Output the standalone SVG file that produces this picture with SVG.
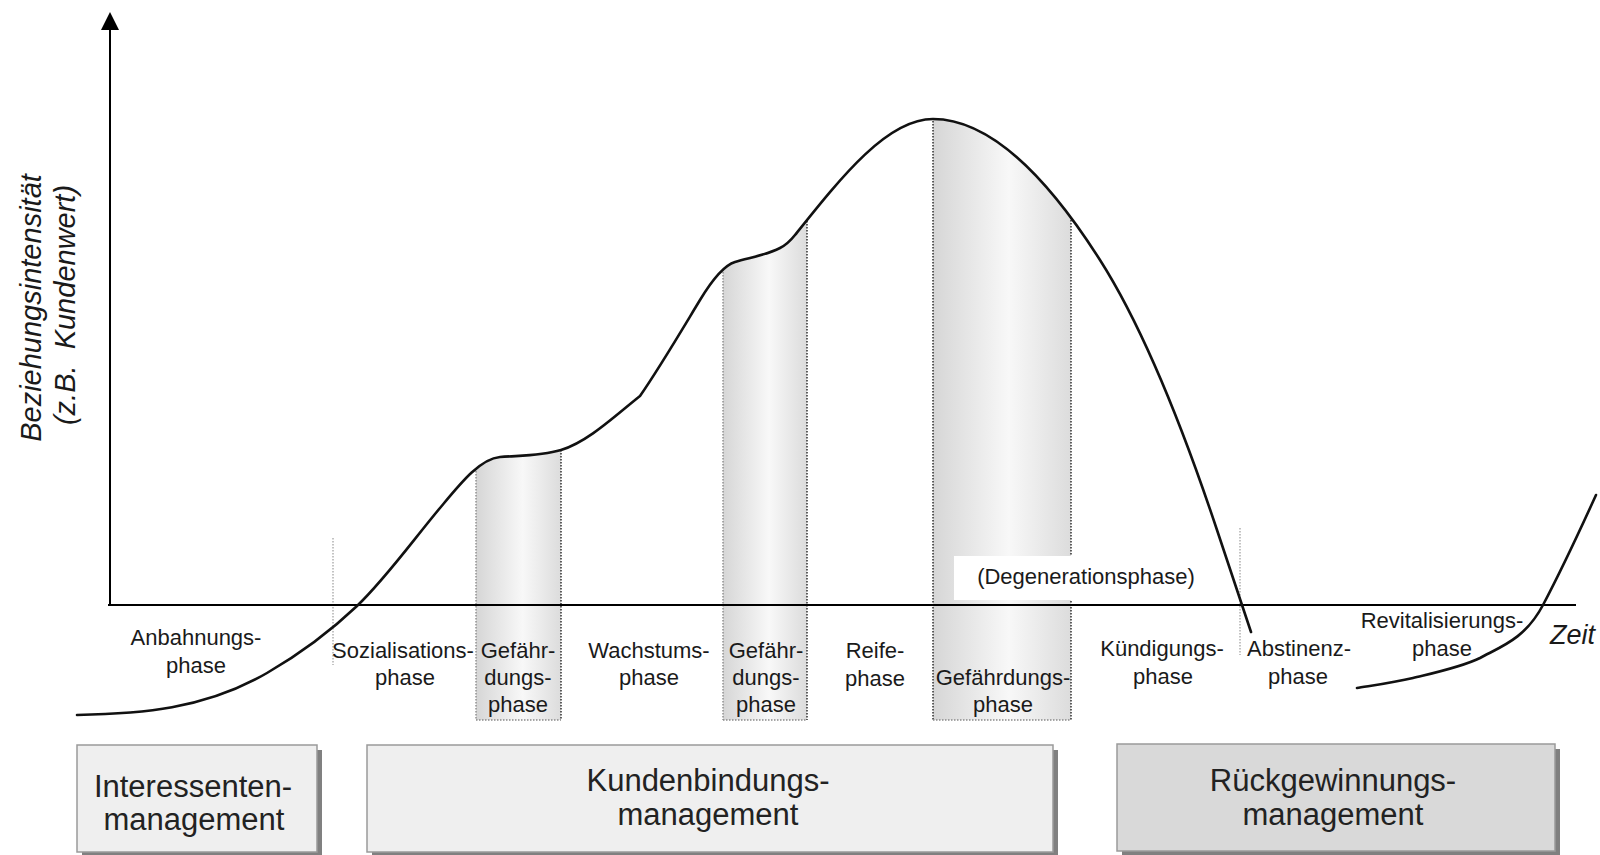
<svg xmlns="http://www.w3.org/2000/svg" width="1600" height="855" viewBox="0 0 1600 855">
<style>
.lbl{font-family:"Liberation Sans",Arial,sans-serif;font-size:22px;fill:#1a1a1a;text-anchor:middle}
.ital{font-family:"Liberation Sans",Arial,sans-serif;font-style:italic;fill:#1a1a1a}
.boxt{font-family:"Liberation Sans",Arial,sans-serif;font-size:31px;fill:#222;text-anchor:middle}
.ax{stroke:#000;stroke-width:2;fill:none}
.curve{fill:none;stroke:#111;stroke-width:2.6;stroke-linejoin:round;stroke-linecap:round}
.col{fill:url(#colgrad)}
.dotL{stroke:#8a8a8a;stroke-width:1.4;stroke-dasharray:1.5 1.5;fill:none}
.dotR{stroke:#222;stroke-width:1.4;stroke-dasharray:1.5 1.5;fill:none}
.sep{stroke:#aaa;stroke-width:1.4;stroke-dasharray:1.5 1.5;fill:none}
.shadow{fill:#808080}
.box{stroke:#9a9a9a;stroke-width:1.5}
</style>
<defs>
<linearGradient id="colgrad" x1="0" y1="0" x2="1" y2="0">
<stop offset="0" stop-color="#d6d6d6"/>
<stop offset="0.55" stop-color="#f8f8f8"/>
<stop offset="1" stop-color="#dcdcdc"/>
</linearGradient>
<clipPath id="under">
<path d="M77 715 C140.3 713.7 203.7 709.7 267 673 C297 655.6 327 634.5 357 606 C384.7 579.7 412.3 541.2 440 508 C460 484 480 458.6 500 457 C520.3 455.4 540.7 456.1 561 450 C587.3 442.1 613.7 417 640 396 C660 367 680 333 700 300 C711.7 280.7 723.3 265.5 735 262 C750 257.5 765 255.5 780 248 C785 245.5 790 241.3 795 235 C841 177.5 887 119 933 119 C988.7 119 1044.3 172.6 1100 260 C1139 321.2 1178 413 1217 530 L1251 632 L1260 860 L60 860 Z"/>
</clipPath>
</defs>
<rect width="1600" height="855" fill="#fff"/>

<g id="columns" clip-path="url(#under)">
<g id="col1">
<rect class="col" x="476" y="420" width="85" height="300"/>
<line class="dotL" x1="476" y1="420" x2="476" y2="720"/>
<line class="dotR" x1="561" y1="420" x2="561" y2="720"/>
<line class="dotL" x1="476" y1="720" x2="561" y2="720"/>
</g>
<g id="col2">
<rect class="col" x="723" y="200" width="84" height="520"/>
<line class="dotL" x1="723" y1="200" x2="723" y2="720"/>
<line class="dotR" x1="807" y1="200" x2="807" y2="720"/>
<line class="dotL" x1="723" y1="720" x2="807" y2="720"/>
</g>
<g id="col3">
<rect class="col" x="933" y="100" width="138" height="620"/>
<line class="dotR" x1="933" y1="100" x2="933" y2="720"/>
<line class="dotR" x1="1071" y1="100" x2="1071" y2="720"/>
<line class="dotL" x1="933" y1="720" x2="1071" y2="720"/>
</g>
</g>

<g id="degeneration">
<rect x="954" y="556" width="250" height="44" fill="#fff"/>
<text class="lbl" x="1086" y="584">(Degenerationsphase)</text>
</g>

<g id="separators">
<line class="sep" x1="333" y1="538" x2="333" y2="665"/>
<line class="sep" x1="1240" y1="528" x2="1240" y2="655"/>
</g>

<g id="connectors">
<line class="ax" x1="110" y1="605" x2="110" y2="28"/>
<polygon points="110,12 101,30 119,30" fill="#000"/>
<line class="ax" x1="108" y1="605" x2="1576" y2="605"/>
<path class="curve" d="M77 715 C140.3 713.7 203.7 709.7 267 673 C297 655.6 327 634.5 357 606 C384.7 579.7 412.3 541.2 440 508 C460 484 480 458.6 500 457 C520.3 455.4 540.7 456.1 561 450 C587.3 442.1 613.7 417 640 396 C660 367 680 333 700 300 C711.7 280.7 723.3 265.5 735 262 C750 257.5 765 255.5 780 248 C785 245.5 790 241.3 795 235 C841 177.5 887 119 933 119 C988.7 119 1044.3 172.6 1100 260 C1139 321.2 1178 413 1217 530 L1251 632"/>
<path class="curve" d="M1357 688 C1366.3 686.3 1392.5 683 1413 678 C1433.5 673 1461 667.3 1480 658 C1501 646.5 1525 639 1543 605 C1560.7 571.4 1578.3 534 1596 495"/>
</g>

<g id="axis-labels">
<text class="ital" font-size="29" text-anchor="middle" transform="translate(41,308) rotate(-90)">Beziehungsintensität</text>
<text class="ital" font-size="29" text-anchor="middle" xml:space="preserve" transform="translate(75,305) rotate(-90)">(z.B.  Kundenwert)</text>
<text class="ital" font-size="27" x="1550" y="644">Zeit</text>
</g>

<g id="phase-anbahnung"><text class="lbl" x="196" y="645">Anbahnungs-</text><text class="lbl" x="196" y="673">phase</text></g>
<g id="phase-sozialisation"><text class="lbl" x="403" y="658">Sozialisations-</text><text class="lbl" x="405" y="685">phase</text></g>
<g id="phase-gefaehrdung1"><text class="lbl" x="518" y="658">Gefähr-</text><text class="lbl" x="518" y="685">dungs-</text><text class="lbl" x="518" y="712">phase</text></g>
<g id="phase-wachstum"><text class="lbl" x="649" y="658">Wachstums-</text><text class="lbl" x="649" y="685">phase</text></g>
<g id="phase-gefaehrdung2"><text class="lbl" x="766" y="658">Gefähr-</text><text class="lbl" x="766" y="685">dungs-</text><text class="lbl" x="766" y="712">phase</text></g>
<g id="phase-reife"><text class="lbl" x="875" y="658">Reife-</text><text class="lbl" x="875" y="686">phase</text></g>
<g id="phase-gefaehrdung3"><text class="lbl" x="1003" y="685">Gefährdungs-</text><text class="lbl" x="1003" y="712">phase</text></g>
<g id="phase-kuendigung"><text class="lbl" x="1162" y="656">Kündigungs-</text><text class="lbl" x="1163" y="684">phase</text></g>
<g id="phase-abstinenz"><text class="lbl" x="1299" y="656">Abstinenz-</text><text class="lbl" x="1298" y="684">phase</text></g>
<g id="phase-revitalisierung"><text class="lbl" x="1442" y="628">Revitalisierungs-</text><text class="lbl" x="1442" y="656">phase</text></g>

<g id="box-interessenten">
<rect class="shadow" x="82" y="750" width="240" height="107"/>
<rect class="box" x="77" y="745" width="240" height="107" fill="#efefef"/>
<text class="boxt" x="193" y="797">Interessenten-</text>
<text class="boxt" x="194" y="830">management</text>
</g>
<g id="box-kundenbindung">
<rect class="shadow" x="372" y="750" width="686" height="107"/>
<rect class="box" x="367" y="745" width="686" height="107" fill="#efefef"/>
<text class="boxt" x="708" y="791">Kundenbindungs-</text>
<text class="boxt" x="708" y="825">management</text>
</g>
<g id="box-rueckgewinnung">
<rect class="shadow" x="1122" y="749" width="438" height="107"/>
<rect class="box" x="1117" y="744" width="438" height="107" fill="#d9d9d9"/>
<text class="boxt" x="1333" y="791">Rückgewinnungs-</text>
<text class="boxt" x="1333" y="825">management</text>
</g>
</svg>
